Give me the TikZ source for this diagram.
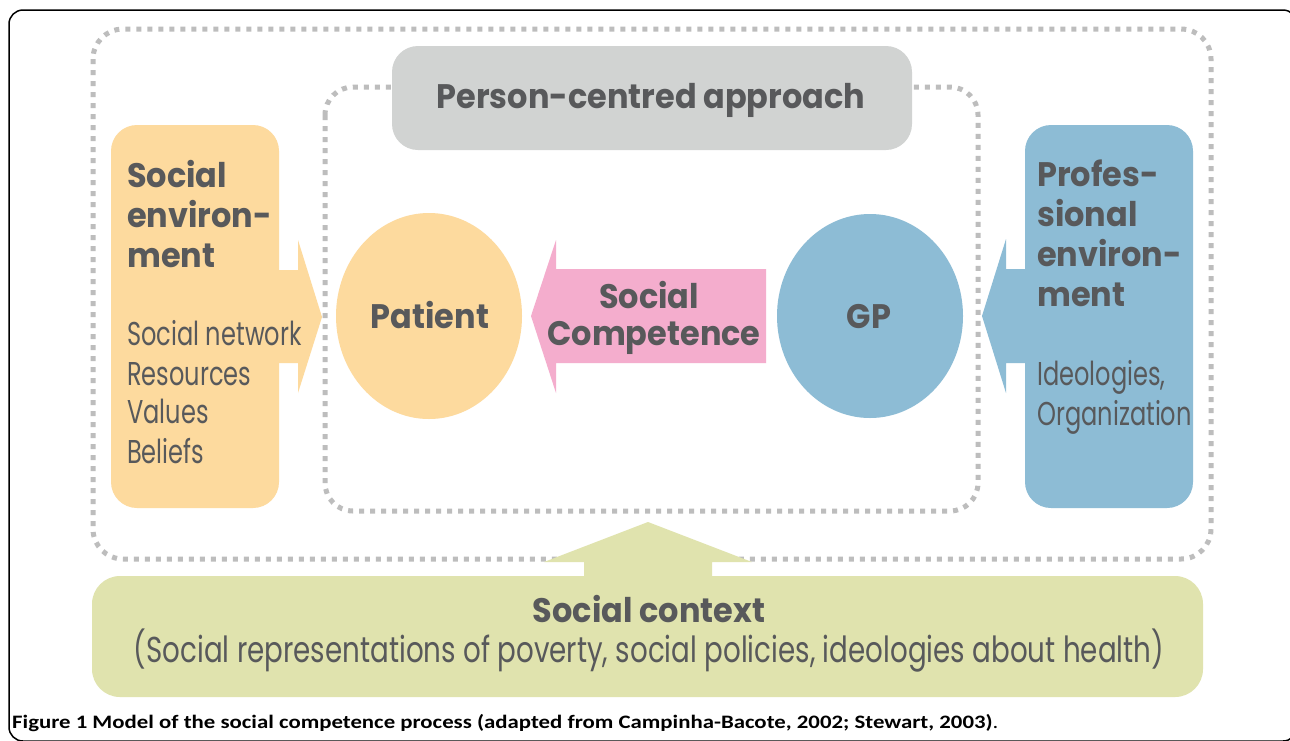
\documentclass[tikz,border=0pt]{standalone}
\usepackage{fontspec}
\usetikzlibrary{shapes.geometric}
\setmainfont{Poppins}
\newfontfamily\reg[FakeStretch=0.73]{Poppins}
\newfontfamily\regwide[FakeStretch=0.77]{Poppins}
\newfontfamily\bfam[FakeStretch=0.94]{Poppins}
\newfontfamily\capfont[FakeStretch=1.20]{Carlito}
\definecolor{txt}{HTML}{58595B}
\definecolor{dotgray}{HTML}{BDBDBD}
\definecolor{orng}{HTML}{FDDA9E}
\definecolor{blu}{HTML}{8DBCD5}
\definecolor{pnk}{HTML}{F4ADCD}
\definecolor{grn}{HTML}{E0E3AE}
\definecolor{pcgray}{HTML}{D1D3D2}
\begin{document}
\begin{tikzpicture}[x=1pt,y=-1pt,
  dotline/.style={line width=5pt, dash pattern=on 5pt off 6pt, draw=dotgray},
  boldtxt/.style={font=\bfam\fontsize{34}{40}\selectfont\bfseries, text=txt, inner sep=0pt},
  lighttxt/.style={font=\reg\fontsize{33}{40}\selectfont, text=txt, inner sep=0pt},
  box/.style={rounded corners=26pt, inner sep=0pt, draw=none},
  oval/.style={ellipse, inner sep=0pt, draw=none},
]
\useasboundingbox (0,0) rectangle (1290,740);
\clip (0,0) rectangle (1290,740);
\fill[white] (0,0) rectangle (1290,740);
\draw[line width=1.5pt, rounded corners=14pt] (9,10) rectangle (1297,741);

% dotted frames
\draw[dotline, rounded corners=30pt] (93,29) rectangle (1211,559);
\draw[dotline, rounded corners=28pt] (325,87) rectangle (978,511);

% boxes
\node[box, fill=pcgray, minimum width=520pt, minimum height=104pt] (pca) at (652,98) {};
\node[box, fill=orng, minimum width=168pt, minimum height=383pt] (senv) at (195,316.5) {};
\node[box, fill=blu, minimum width=168pt, minimum height=383pt] (penv) at (1109,316.5) {};
\node[box, fill=grn, rounded corners=28pt, minimum width=1111pt, minimum height=121pt] (sctx) at (647.5,636.5) {};

% ellipses
\node[oval, fill=orng, minimum width=186pt, minimum height=206pt] (patient) at (429,316) {};
\node[oval, fill=blu, minimum width=186pt, minimum height=204pt] (gp) at (870,316) {};

% block arrows
\fill[orng] (270,270) -- (298,270) -- (298,240) -- (322,317) -- (298,393) -- (298,363) -- (270,363) -- cycle;
\fill[pnk] (766,269) -- (556,269) -- (556,240) -- (531,316) -- (556,393) -- (556,363) -- (766,363) -- cycle;
\fill[blu] (1035,269) -- (1006,269) -- (1006,239) -- (982,316) -- (1006,393) -- (1006,363) -- (1035,363) -- cycle;
\fill[grn] (584,585) -- (584,562) -- (544,562) -- (648,522) -- (752,562) -- (712,562) -- (712,585) -- cycle;

% texts
\node[boldtxt, anchor=base] (pcat) at (651,108) {Person-centred approach};

\node[boldtxt, anchor=base west] (se1) at (127,187) {Social};
\node[boldtxt, anchor=base west] (se2) at (127,227) {environ-};
\node[boldtxt, anchor=base west] (se3) at (127,267) {ment};
\node[lighttxt, anchor=base west] (se4) at (127,345) {Social network};
\node[lighttxt, anchor=base west] (se5) at (127,385) {Resources};
\node[lighttxt, anchor=base west] (se6) at (127,423) {Values};
\node[lighttxt, anchor=base west] (se7) at (127,463) {Beliefs};

\node[boldtxt, anchor=base west] (pe1) at (1037,186) {Profes-};
\node[boldtxt, anchor=base west] (pe2) at (1037,226) {sional};
\node[boldtxt, anchor=base west] (pe3) at (1037,266) {environ-};
\node[boldtxt, anchor=base west] (pe4) at (1037,306) {ment};
\node[lighttxt, anchor=base west] (pe5) at (1037,385) {Ideologies,};
\node[lighttxt, anchor=base west] (pe6) at (1037,425) {Organization};

\node[boldtxt, anchor=base] (patt) at (430,328) {Patient};
\node[boldtxt, anchor=base] (gpt) at (869,328) {GP};
\node[boldtxt, anchor=base] (sc1) at (649,308) {Social};
\node[boldtxt, anchor=base] (sc2) at (654,345) {Competence};

\node[boldtxt, anchor=base] (ctx1) at (649,622) {Social context};
\node[lighttxt, font=\regwide\fontsize{36}{40}\selectfont, anchor=base] (ctx2) at (649,662) {(Social representations of poverty, social policies, ideologies about health)};

\node[anchor=base west, inner sep=0pt, font=\capfont\fontsize{19}{21}\selectfont\bfseries] (cap) at (12,728) {Figure 1 Model of the social competence process (adapted from Campinha-Bacote, 2002; Stewart, 2003)\mdseries.};
\end{tikzpicture}
\end{document}
